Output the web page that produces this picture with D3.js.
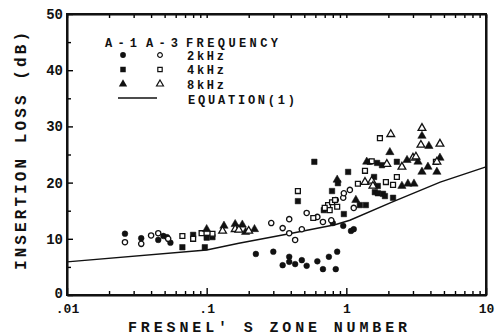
<!DOCTYPE html>
<html>
<head>
<meta charset="utf-8">
<script src="https://cdn.jsdelivr.net/npm/d3@7"></script>
<style>
  body { margin: 0; background: #fff; }
  text { font-family: "Liberation Mono", "DejaVu Sans Mono", monospace; fill: #111; }
</style>
</head>
<body>
<div id="chart"></div>
<script>
// [fresnel number, insertion loss dB]
const a1_2k = [[0.026,10.9],[0.034,10.1],[0.045,9.8],[0.049,10.5],[0.052,10.3],[0.055,9.3],
  [0.225,7.3],[0.30,7.7],[0.35,5.3],[0.39,6.8],[0.39,5.9],[0.43,5.5],[0.48,6.2],[0.52,5.2],
  [0.62,6.0],[0.68,4.6],[0.75,6.8],[0.84,4.6],[0.86,7.7],[0.80,12.8],[0.95,12.3],[1.08,11.4],[1.13,11.7]];
const a3_2k = [[0.026,9.4],[0.034,9.1],[0.040,10.6],[0.045,11.0],[0.053,10.0],
  [0.29,12.8],[0.39,13.5],[0.35,11.9],[0.39,11.0],[0.43,9.8],[0.48,11.7],[0.52,14.6],[0.62,13.9],
  [0.68,13.0],[0.78,13.3],[0.84,16.9],[0.95,17.3],[0.96,18.1],[1.06,18.7],[1.13,15.5]];
const a1_4k = [[0.067,8.5],[0.080,10.7],[0.097,8.5],[0.10,10.2],[0.11,10.3],
  [0.45,16.7],[0.59,23.7],[0.69,15.1],[0.79,18.5],[0.87,19.9],[0.96,14.4],[1.03,21.9],
  [1.25,16.0],[1.38,16.0],[1.47,23.7],[1.66,23.5],[1.80,23.1],[1.58,21.0],[1.60,18.3],
  [1.68,18.1],[1.83,18.0],[1.89,17.6],[2.16,17.3],[2.30,23.7],[1.68,19.4]];
const a3_4k = [[0.067,10.5],[0.080,10.0],[0.092,11.0],[0.11,10.9],
  [0.45,18.5],[0.58,13.7],[0.74,16.0],[0.76,15.1],[0.79,16.5],[0.83,16.9],[0.86,15.7],[0.70,15.5],
  [1.21,19.8],[1.36,22.1],[1.52,23.8],[1.74,27.9],[1.92,20.1],[2.16,19.6],[2.30,21.0],[4.38,23.7]];
const a1_8k = [[0.10,11.7],[0.133,12.3],[0.16,12.6],[0.18,12.5],[0.19,11.2],[0.22,11.7],
  [0.86,20.5],[1.17,16.9],[1.40,23.7],[2.05,25.4],[2.50,19.4],[2.76,19.8],[3.05,19.8],
  [3.26,23.7],[2.72,24.0],[3.48,28.3],[3.90,26.5],[3.84,22.8],[3.48,21.9],[4.45,21.9],[4.68,24.4]];
const a3_8k = [[0.13,11.4],[0.16,11.7],[0.17,11.6],[0.20,11.4],
  [1.36,20.1],[1.52,20.3],[1.95,23.3],[2.08,28.6],[2.50,22.8],[3.00,24.4],[3.15,24.6],
  [3.48,29.7],[3.42,26.7],[4.68,26.9],[4.45,23.7],[1.55,19.4]];
const equation = [[0.01,5.9],[0.1,8.0],[0.17,9.2],[0.39,10.9],[0.83,12.5],[1.06,13.3],
  [2.1,16.5],[4.7,20.1],[10,22.8]];

const xMajor = [0.01, 0.1, 1, 10];
const xLabels = ['.01', '.1', '1', '10'];
const yMajor = [0, 10, 20, 30, 40, 50];
const yMinor = [5, 15, 25, 35, 45];
const freqLabels = ['2kHz', '4kHz', '8kHz'];

const width = 495, height = 336;
const margin = { top: 14, right: 9, bottom: 41, left: 67 };

const svg = d3.select('#chart').append('svg')
  .attr('width', width).attr('height', height);

const x = d3.scaleLog().domain([0.01, 10]).range([margin.left, width - margin.right]);
const y = d3.scaleLinear().domain([0, 50]).range([height - margin.bottom, margin.top]);

const xMinor = [];
[0.01, 0.1, 1].forEach(d => { for (let k = 2; k <= 9; k++) xMinor.push(d * k); });

const plotL = x(0.01), plotR = x(10), plotB = y(0), plotT = y(50);

// axes keep their domain path, which makes the frame sides
const bottomAxis = svg.append('g').attr('transform', `translate(0,${plotB})`);
bottomAxis.call(d3.axisBottom(x).tickValues(xMajor).tickSizeInner(-7).tickSizeOuter(0)
    .tickPadding(9).tickFormat((d, i) => xLabels[i]))
  .call(g => g.selectAll('text').style('font-size', '13px').attr('font-weight', 'bold'));
bottomAxis.append('g').call(d3.axisBottom(x).tickValues(xMinor).tickSizeInner(-4).tickSizeOuter(0).tickFormat(''))
  .call(g => g.select('.domain').remove());

const topAxis = svg.append('g').attr('transform', `translate(0,${plotT})`);
topAxis.call(d3.axisTop(x).tickValues(xMajor.concat(xMinor)).tickSizeInner(-4).tickSizeOuter(0).tickFormat(''));

const leftAxis = svg.append('g').attr('transform', `translate(${plotL},0)`);
leftAxis.call(d3.axisLeft(y).tickValues(yMajor).tickSizeInner(-6).tickSizeOuter(0).tickPadding(4))
  .call(g => g.selectAll('text').style('font-size', '14px').attr('font-weight', 'bold'));
leftAxis.append('g').call(d3.axisLeft(y).tickValues(yMinor).tickSizeInner(-4).tickSizeOuter(0).tickFormat(''))
  .call(g => g.select('.domain').remove());

const rightAxis = svg.append('g').attr('transform', `translate(${plotR},0)`);
rightAxis.call(d3.axisRight(y).tickValues([]).tickSizeOuter(0));

svg.selectAll('.domain').attr('stroke', '#000').attr('stroke-width', 2);
svg.selectAll('.tick line').attr('stroke', '#000').attr('stroke-width', 1.4);
// keep the "0" label clear of ".01" below it
leftAxis.selectAll('.tick text').filter(d => d === 0).attr('dy', '0.15em');

// frame sides as filled strips as well
const sides = [
  [plotL - 1, plotT - 1, plotR - plotL + 2, 2],
  [plotL - 1, plotB - 1, plotR - plotL + 2, 2],
  [plotL - 1, plotT - 1, 2, plotB - plotT + 2],
  [plotR - 1, plotT - 1, 2, plotB - plotT + 2]
];
svg.append('g').selectAll('rect').data(sides).enter().append('rect')
  .attr('x', d => d[0]).attr('y', d => d[1]).attr('width', d => d[2]).attr('height', d => d[3])
  .attr('fill', '#111');

// equation line
svg.append('path')
  .datum(equation)
  .attr('fill', 'none').attr('stroke', '#111').attr('stroke-width', 1.4)
  .attr('d', d3.line().x(d => x(d[0])).y(d => y(d[1])));

// scatter series
const series = [
  { data: a1_2k, type: d3.symbolCircle, size: 26, filled: true },
  { data: a3_2k, type: d3.symbolCircle, size: 22, filled: false },
  { data: a1_4k, type: d3.symbolSquare, size: 30, filled: true },
  { data: a3_4k, type: d3.symbolSquare, size: 24, filled: false },
  { data: a1_8k, type: d3.symbolTriangle, size: 30, filled: true },
  { data: a3_8k, type: d3.symbolTriangle, size: 26, filled: false }
];

series.forEach(s => {
  svg.append('g').selectAll('path')
    .data(s.data)
    .enter()
    .append('path')
    .attr('transform', d => `translate(${x(d[0])},${y(d[1])})`)
    .attr('d', d3.symbol().type(s.type).size(s.size))
    .attr('fill', s.filled ? '#111' : '#fff')
    .attr('stroke', '#111')
    .attr('stroke-width', s.filled ? 0.5 : 1.3);
});

// legend
const lg = svg.append('g').style('font-size', '12px').attr('font-weight', 'bold');
lg.append('text').attr('x', 105).attr('y', 47).attr('textLength', 32).text('A-1');
lg.append('text').attr('x', 146).attr('y', 47).attr('textLength', 32).text('A-3');
lg.append('text').attr('x', 186).attr('y', 47).attr('textLength', 92).text('FREQUENCY');
freqLabels.forEach((t, i) => {
  const yy = 55 + i * 14.5;
  const sf = series[i * 2], so = series[i * 2 + 1];
  lg.append('path').attr('transform', `translate(123,${yy})`)
    .attr('d', d3.symbol().type(sf.type).size(sf.size)).attr('fill', '#111');
  lg.append('path').attr('transform', `translate(160,${yy})`)
    .attr('d', d3.symbol().type(so.type).size(so.size * 0.8))
    .attr('fill', '#fff').attr('stroke', '#111').attr('stroke-width', 1.2);
  lg.append('text').attr('x', 187).attr('y', yy + 4.5).attr('textLength', 37).text(t);
});
lg.append('line').attr('x1', 118).attr('x2', 157).attr('y1', 98).attr('y2', 98)
  .attr('stroke', '#111').attr('stroke-width', 1.4);
lg.append('text').attr('x', 188).attr('y', 104).attr('textLength', 107).text('EQUATION(1)');

// axis titles
svg.append('text')
  .attr('x', 128).attr('y', 332).attr('textLength', 279)
  .style('font-size', '15px').attr('font-weight', 'bold')
  .text("FRESNEL' S ZONE NUMBER");

svg.append('text')
  .attr('transform', 'translate(26,270) rotate(-90)')
  .attr('textLength', 238)
  .style('font-size', '16px').attr('font-weight', 'bold')
  .text('INSERTION LOSS (dB)');
</script>
</body>
</html>
